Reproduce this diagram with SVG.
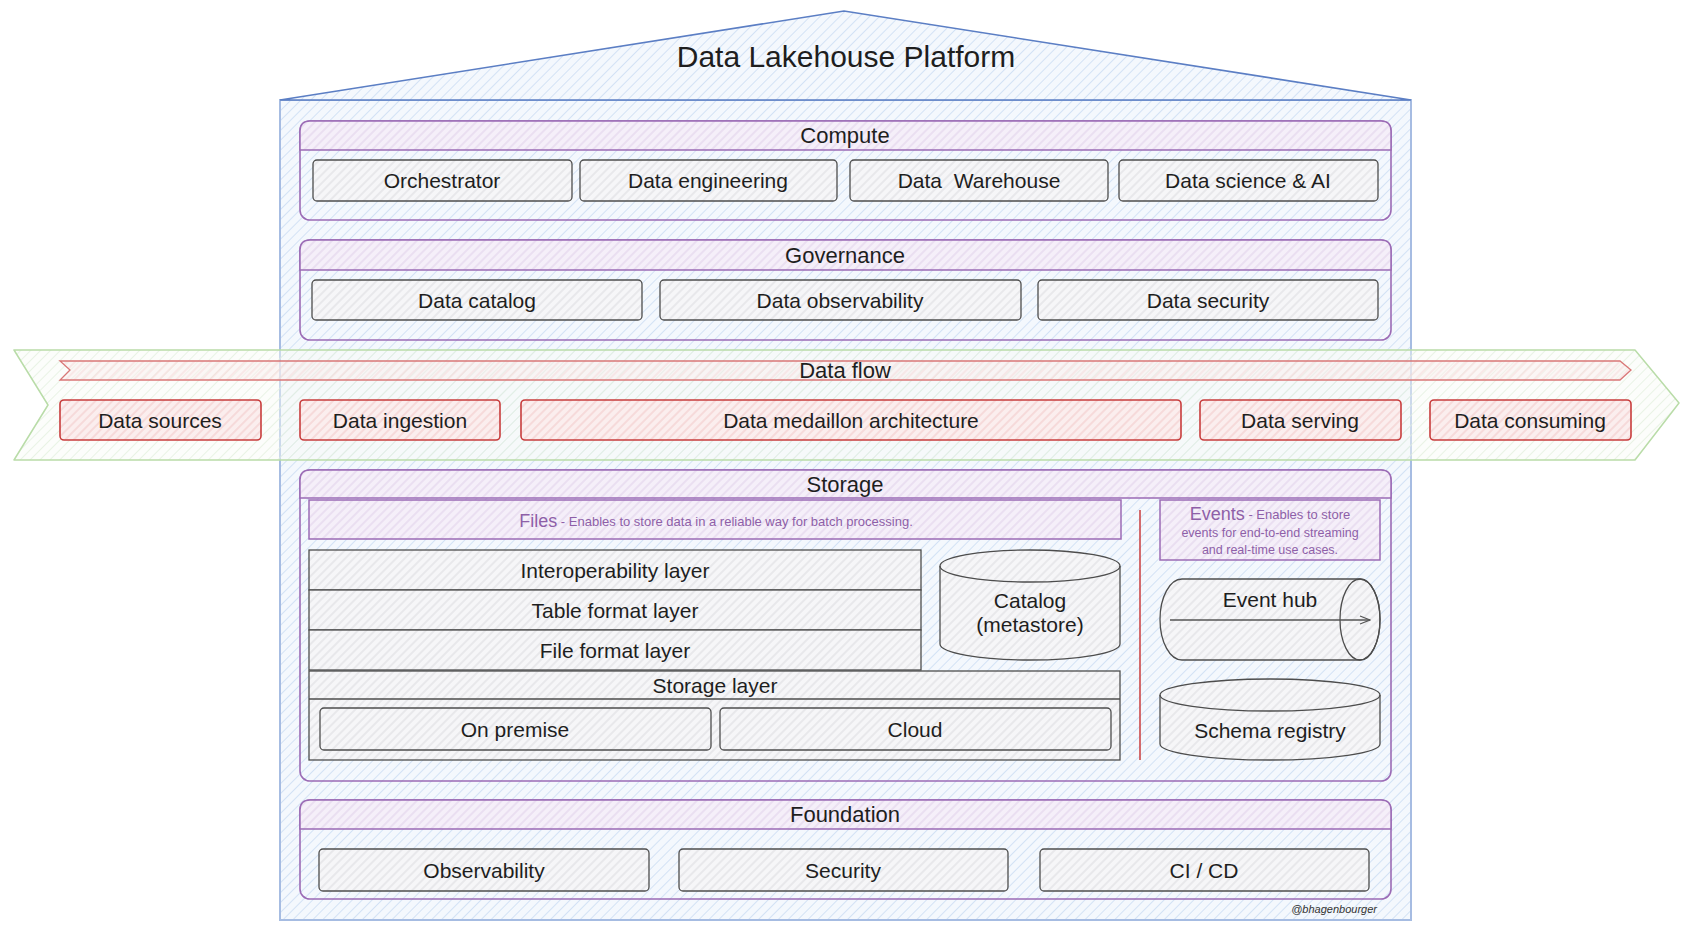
<svg xmlns="http://www.w3.org/2000/svg" width="1691" height="932" viewBox="0 0 1691 932">
<defs>
<pattern id="hb" width="7" height="7" patternUnits="userSpaceOnUse" patternTransform="rotate(-45)"><rect width="7" height="7" fill="#f4f8fd"/><line x1="0" y1="3.5" x2="7" y2="3.5" stroke="#d3e2f5" stroke-width="1"/></pattern>
<pattern id="hp" width="6" height="6" patternUnits="userSpaceOnUse" patternTransform="rotate(-45)"><rect width="6" height="6" fill="#f5eff9"/><line x1="0" y1="3" x2="6" y2="3" stroke="#dfcfea" stroke-width="1"/></pattern>
<pattern id="hg" width="6" height="6" patternUnits="userSpaceOnUse" patternTransform="rotate(-45)"><rect width="6" height="6" fill="#f6f6f8"/><line x1="0" y1="3" x2="6" y2="3" stroke="#dadadf" stroke-width="1"/></pattern>
<pattern id="hr" width="6" height="6" patternUnits="userSpaceOnUse" patternTransform="rotate(-45)"><rect width="6" height="6" fill="#fbeeee"/><line x1="0" y1="3" x2="6" y2="3" stroke="#f2c6c6" stroke-width="1"/></pattern>
<pattern id="hr2" width="6" height="6" patternUnits="userSpaceOnUse" patternTransform="rotate(-45)"><rect width="6" height="6" fill="#fbeeee" fill-opacity="0.45"/><line x1="0" y1="3" x2="6" y2="3" stroke="#f2c6c6" stroke-width="1" stroke-opacity="0.6"/></pattern>
<pattern id="hgr" width="7" height="7" patternUnits="userSpaceOnUse" patternTransform="rotate(-45)"><rect width="7" height="7" fill="#f8fbf6" fill-opacity="0.45"/><line x1="0" y1="3.5" x2="7" y2="3.5" stroke="#e2eedc" stroke-width="1" stroke-opacity="0.7"/></pattern>
<marker id="ah" markerWidth="12" markerHeight="10" refX="11" refY="5" orient="auto" markerUnits="userSpaceOnUse"><path d="M1,1 L11,5 L1,9" fill="none" stroke="#555" stroke-width="1.3"/></marker>
</defs>
<style>
.t{font-family:"Liberation Sans",Arial,sans-serif;fill:#1e1e1e;text-anchor:middle;dominant-baseline:central}
.ttl{font-size:30px}
.h{font-size:22px}
.i{font-size:21px}
.sec{fill:none;stroke:#9b6bb5;stroke-width:1.6}
.hdr{fill:url(#hp);stroke:#9b6bb5;stroke-width:1.5}
.item{fill:url(#hg);stroke:#4d4d4d;stroke-width:1.3}
.red{fill:url(#hr);stroke:#c83c3c;stroke-width:1.6}
.pbox{fill:url(#hp);stroke:#9b6bb5;stroke-width:1.5}
.pt{fill:#8e5fa8}
.cyl{fill:url(#hg);stroke:#4d4d4d;stroke-width:1.3}
</style>
<rect width="1691" height="932" fill="#ffffff"/>

<g id="house">
<rect x="280" y="100" width="1131" height="820" fill="url(#hb)" stroke="#a6bce2" stroke-width="2"/>
<polygon points="280,100 844,11 1411,100" fill="url(#hb)" stroke="#5b7ec4" stroke-width="1.6"/>
<text class="t ttl" x="846" y="56">Data Lakehouse Platform</text>
</g>

<g id="compute">
<rect class="sec" x="300" y="121" width="1091" height="99" rx="10"/>
<path class="hdr" d="M300,150 V131 Q300,121 310,121 H1381 Q1391,121 1391,131 V150 Z"/>
<text class="t h" x="845" y="135">Compute</text>
</g>
<g id="orchestrator"><rect class="item" x="313" y="160" width="259" height="41" rx="4"/><text class="t i" x="442" y="180">Orchestrator</text></g>
<g id="data-engineering"><rect class="item" x="580" y="160" width="257" height="41" rx="4"/><text class="t i" x="708" y="180">Data engineering</text></g>
<g id="data-warehouse"><rect class="item" x="850" y="160" width="258" height="41" rx="4"/><text class="t i" x="979" y="180" xml:space="preserve">Data  Warehouse</text></g>
<g id="data-science"><rect class="item" x="1119" y="160" width="259" height="41" rx="4"/><text class="t i" x="1248" y="180">Data science &amp; AI</text></g>

<g id="governance">
<rect class="sec" x="300" y="240" width="1091" height="100" rx="10"/>
<path class="hdr" d="M300,270 V250 Q300,240 310,240 H1381 Q1391,240 1391,250 V270 Z"/>
<text class="t h" x="845" y="255">Governance</text>
</g>
<g id="data-catalog"><rect class="item" x="312" y="280" width="330" height="40" rx="4"/><text class="t i" x="477" y="300">Data catalog</text></g>
<g id="data-observability"><rect class="item" x="660" y="280" width="361" height="40" rx="4"/><text class="t i" x="840" y="300">Data observability</text></g>
<g id="data-security"><rect class="item" x="1038" y="280" width="340" height="40" rx="4"/><text class="t i" x="1208" y="300">Data security</text></g>

<g id="data-flow">
<polygon points="14,350 1635,350 1679,403 1635,460 14,460 48,405" fill="url(#hgr)" stroke="#b9dca8" stroke-width="1.5" stroke-linejoin="round"/>
<polygon points="60,361 1620,361 1631,370 1620,380 60,380 70,370" fill="url(#hr2)" stroke="#d97777" stroke-width="1.3"/>
<text class="t h" x="845" y="370">Data flow</text>
</g>
<g id="data-sources"><rect class="red" x="60" y="400" width="201" height="40" rx="4"/><text class="t i" x="160" y="420">Data sources</text></g>
<g id="data-ingestion"><rect class="red" x="300" y="400" width="200" height="40" rx="4"/><text class="t i" x="400" y="420">Data ingestion</text></g>
<g id="data-medaillon"><rect class="red" x="521" y="400" width="660" height="40" rx="4"/><text class="t i" x="851" y="420">Data medaillon architecture</text></g>
<g id="data-serving"><rect class="red" x="1200" y="400" width="201" height="40" rx="4"/><text class="t i" x="1300" y="420">Data serving</text></g>
<g id="data-consuming"><rect class="red" x="1430" y="400" width="201" height="40" rx="4"/><text class="t i" x="1530" y="420">Data consuming</text></g>

<g id="storage">
<rect class="sec" x="300" y="470" width="1091" height="311" rx="10"/>
<path class="hdr" d="M300,498 V480 Q300,470 310,470 H1381 Q1391,470 1391,480 V498 Z"/>
<text class="t h" x="845" y="484">Storage</text>
<line x1="1140" y1="510" x2="1140" y2="760" stroke="#c83c3c" stroke-width="1.5"/>
</g>
<g id="files"><rect class="pbox" x="309" y="500" width="812" height="39"/><text class="t pt" x="716" y="521"><tspan font-size="18">Files</tspan><tspan font-size="13"> - Enables to store data in a reliable way for batch processing.</tspan></text></g>
<g id="events"><rect class="pbox" x="1160" y="500" width="220" height="60"/>
<text class="t pt" x="1270" y="514"><tspan font-size="18">Events</tspan><tspan font-size="13"> - Enables to store</tspan></text>
<text class="t pt" x="1270" y="533" font-size="12.5">events for end-to-end streaming</text>
<text class="t pt" x="1270" y="550" font-size="12.5">and real-time use cases.</text></g>
<g id="interoperability-layer"><rect class="item" x="309" y="550" width="612" height="40"/><text class="t i" x="615" y="570">Interoperability layer</text></g>
<g id="table-format-layer"><rect class="item" x="309" y="590" width="612" height="40"/><text class="t i" x="615" y="610">Table format layer</text></g>
<g id="file-format-layer"><rect class="item" x="309" y="630" width="612" height="40"/><text class="t i" x="615" y="650">File format layer</text></g>
<g id="storage-layer"><rect class="item" x="309" y="671" width="811" height="89"/><line x1="309" y1="699" x2="1120" y2="699" stroke="#4d4d4d" stroke-width="1.3"/><text class="t i" x="715" y="685">Storage layer</text></g>
<g id="on-premise"><rect class="item" x="320" y="708" width="391" height="42" rx="4"/><text class="t i" x="515" y="729">On premise</text></g>
<g id="cloud"><rect class="item" x="720" y="708" width="391" height="42" rx="4"/><text class="t i" x="915" y="729">Cloud</text></g>
<g id="catalog">
<path class="cyl" d="M940,566 A90,16 0 0 1 1120,566 V644 A90,16 0 0 1 940,644 Z"/>
<path d="M940,566 A90,16 0 0 0 1120,566" fill="none" stroke="#4d4d4d" stroke-width="1.3"/>
<text class="t i" x="1030" y="600">Catalog</text>
<text class="t i" x="1030" y="624">(metastore)</text>
</g>
<g id="event-hub">
<path class="cyl" d="M1182,579 H1360 A20,40.5 0 0 1 1360,660 H1182 A22,40.5 0 0 1 1182,579 Z"/>
<ellipse cx="1360" cy="619.5" rx="20" ry="40.5" fill="none" stroke="#4d4d4d" stroke-width="1.3"/>
<text class="t i" x="1270" y="599">Event hub</text>
</g>
<g id="schema-registry">
<path class="cyl" d="M1160,695 A110,16 0 0 1 1380,695 V744 A110,16 0 0 1 1160,744 Z"/>
<path d="M1160,695 A110,16 0 0 0 1380,695" fill="none" stroke="#4d4d4d" stroke-width="1.3"/>
<text class="t i" x="1270" y="730">Schema registry</text>
</g>

<g id="foundation">
<rect class="sec" x="300" y="800" width="1091" height="99" rx="10"/>
<path class="hdr" d="M300,829 V810 Q300,800 310,800 H1381 Q1391,800 1391,810 V829 Z"/>
<text class="t h" x="845" y="814">Foundation</text>
</g>
<g id="observability"><rect class="item" x="319" y="849" width="330" height="42" rx="4"/><text class="t i" x="484" y="870">Observability</text></g>
<g id="security"><rect class="item" x="679" y="849" width="329" height="42" rx="4"/><text class="t i" x="843" y="870">Security</text></g>
<g id="ci-cd"><rect class="item" x="1040" y="849" width="329" height="42" rx="4"/><text class="t i" x="1204" y="870">CI / CD</text></g>

<g id="signature"><text x="1377" y="913" font-family="Liberation Sans, Arial, sans-serif" font-size="11" font-style="italic" fill="#333" text-anchor="end">@bhagenbourger</text></g>

<g id="connectors">
<line x1="1170" y1="620" x2="1370" y2="620" stroke="#555" stroke-width="1.3" marker-end="url(#ah)"/>
</g>
</svg>
